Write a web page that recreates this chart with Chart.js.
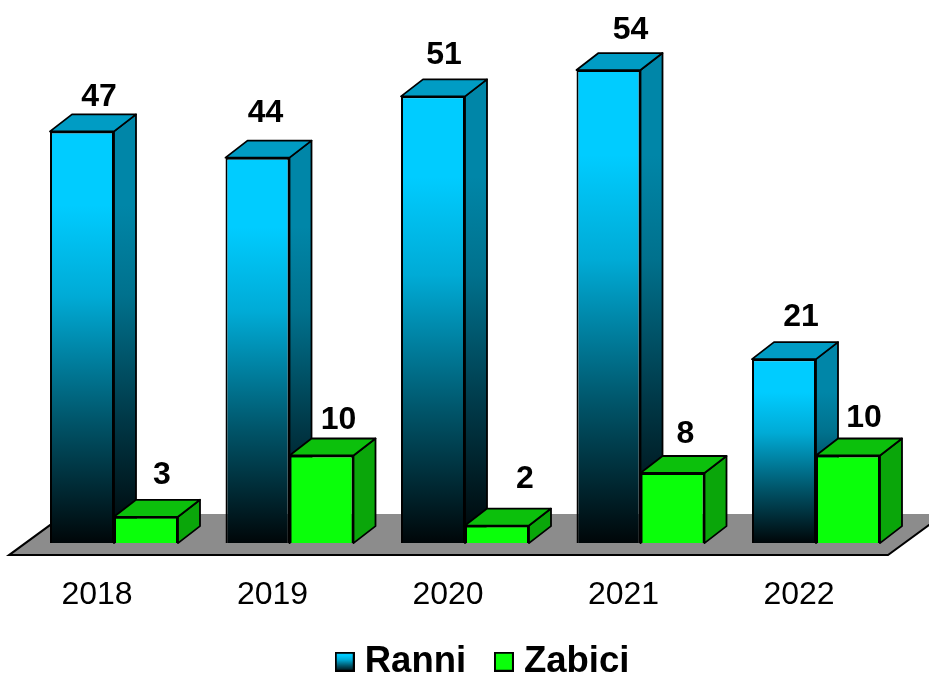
<!DOCTYPE html>
<html><head><meta charset="utf-8">
<style>html,body{margin:0;padding:0;background:#fff}#w{position:relative;width:929px;height:675px}</style>
<script src="https://cdn.jsdelivr.net/npm/chart.js@4"></script>
</head><body><div id="w"><canvas id="c" width="929" height="675"></canvas></div>
<script>
const categories = ['2018','2019','2020','2021','2022'];
const ranni = [47,44,51,54,21];
const zabici = [3,10,2,8,10];
const seriesNames = ['Ranni','Zabici'];
// hand-placed label offsets (px) from the front-face centre/top of each bar
const labelDx = [[17,8,11,22,17],[16,17,28,13,16]];
const labelDy = [[-34,-44,-41,-40,-42],[-42,-35,-46,-39,-37]];
const DX = 22, DY = -17;
const FONT = '"Liberation Sans", Arial, sans-serif';

// shared fade: [position, brightness]
const fade = [[0,1],[0.18,1],[0.4,0.84],[0.7,0.42],[1,0.03]];
function blueGrad(ctx, top, bottom, rgb){
  const g = ctx.createLinearGradient(0, top, 0, bottom);
  fade.forEach(([p,k]) => g.addColorStop(p, 'rgb('+rgb.map(v=>Math.round(v*k)).join(',')+')'));
  return g;
}
const FRONT = [0,204,255], SIDE = [0,134,168];

function swatch(fill){
  const s = document.createElement('canvas'); s.width = 20; s.height = 20;
  const x = s.getContext('2d');
  x.fillStyle = Array.isArray(fill) ? blueGrad(x,0,20,fill) : fill;
  x.fillRect(0,0,20,20);
  x.strokeStyle = '#000'; x.lineWidth = 2; x.strokeRect(1,1,18,18);
  return s;
}
const swatches = [swatch(FRONT), swatch('#0aff0a')];

const solid3d = {
  id: 'solid3d',
  afterLayout(chart){
    chart.legend.left = 307;   // legend row start
    chart.legend.top = 607.5;
  },
  beforeDatasetsDraw(chart){
    const ctx = chart.ctx, base = chart.scales.y.getPixelForValue(0);
    // floor
    ctx.save();
    ctx.beginPath();
    ctx.moveTo(9,base+12); ctx.lineTo(888,base+12); ctx.lineTo(944,base-29); ctx.lineTo(65,base-29); ctx.closePath();
    ctx.fillStyle = '#8c8c8c'; ctx.fill();
    ctx.beginPath();
    ctx.moveTo(65,base-29); ctx.lineTo(9,base+12); ctx.lineTo(888,base+12); ctx.lineTo(944,base-29);
    ctx.strokeStyle = '#000'; ctx.lineWidth = 2; ctx.stroke();
    ctx.lineJoin = 'round'; ctx.lineWidth = 1.8;
    [0,1].forEach(d => {
      chart.getDatasetMeta(d).data.forEach(b => {
        const l = b.x - b.width/2, r = b.x + b.width/2, t = b.y;
        // side
        ctx.beginPath();
        ctx.moveTo(r,t); ctx.lineTo(r+DX,t+DY); ctx.lineTo(r+DX,base+DY); ctx.lineTo(r,base); ctx.closePath();
        ctx.fillStyle = d===0 ? blueGrad(ctx,t,base,SIDE) : '#0aa60a';
        ctx.fill(); ctx.stroke();
        // top
        ctx.beginPath();
        ctx.moveTo(l,t); ctx.lineTo(l+DX,t+DY); ctx.lineTo(r+DX,t+DY); ctx.lineTo(r,t); ctx.closePath();
        ctx.fillStyle = d===0 ? '#009cc4' : '#0cc00c';
        ctx.fill(); ctx.stroke();
      });
    });
    ctx.restore();
  },
  afterDatasetsDraw(chart){
    const ctx = chart.ctx;
    ctx.save();
    ctx.font = 'bold 32px '+FONT; ctx.fillStyle = '#000';
    ctx.textAlign = 'center'; ctx.textBaseline = 'middle';
    [ranni,zabici].forEach((vals,d) => {
      chart.getDatasetMeta(d).data.forEach((b,i) => {
        ctx.fillText(String(vals[i]), b.x + labelDx[d][i], b.y + labelDy[d][i]);
      });
    });
    ctx.restore();
  }
};

new Chart(document.getElementById('c'), {
  type: 'bar',
  data: {
    labels: categories,
    datasets: [
      { label: seriesNames[0], data: ranni, borderColor:'#000', borderWidth:2,
        backgroundColor: c => {
          if (!c.chart.chartArea) return '#00ccff';
          const y = c.chart.scales.y;
          return blueGrad(c.chart.ctx, y.getPixelForValue(ranni[c.dataIndex]), y.getPixelForValue(0), FRONT);
        } },
      { label: seriesNames[1], data: zabici, borderColor:'#000', borderWidth:2, backgroundColor:'#0aff0a' }
    ]
  },
  options: {
    responsive: false, animation: false,
    barPercentage: 1, categoryPercentage: 128/175.5,
    layout: { padding: { top: 17.5, left: 26.25, right: 25.25, bottom: -55 } },
    scales: {
      x: { grid:{display:false, drawTicks:false}, border:{display:false},
           ticks:{ color:'#000', font:{family:FONT,size:32}, padding:33, labelOffset:-17, maxRotation:0, autoSkip:false } },
      y: { display:false, min:0, max:60 }
    },
    plugins: {
      tooltip:{enabled:false},
      legend: { position:'bottom', align:'start',
        labels: { color:'#000', font:{family:FONT,size:36.5,weight:'bold'}, padding:36,
          usePointStyle:true, pointStyleWidth:3.5,
          generateLabels: () => seriesNames.map((n,i)=>({text:n, pointStyle:swatches[i], datasetIndex:i, hidden:false, fontColor:'#000', lineWidth:0})) } }
    }
  },
  plugins: [solid3d]
});
</script></body></html>
